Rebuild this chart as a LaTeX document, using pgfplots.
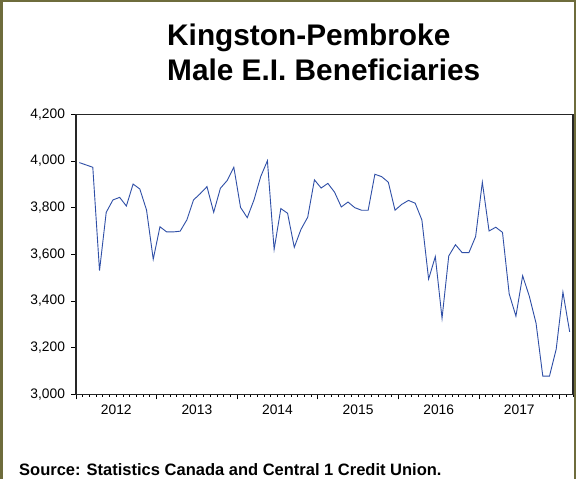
\documentclass[border=0pt]{standalone}
\usepackage{pgfplots}
\pgfplotsset{compat=1.18}
\usepackage{fontspec}
\setmainfont{Liberation Sans}
\definecolor{frameol}{RGB}{110,108,60}
\definecolor{lineblue}{RGB}{47,79,167}
\begin{document}
\begin{tikzpicture}[x=1bp,y=1bp]
\useasboundingbox (0,-479) rectangle (576,0);
\fill[white] (0,-479) rectangle (576,0);
\draw[frameol, line width=2.5bp] (1.25,-490) -- (1.25,-1.25) -- (574.75,-1.25) -- (574.75,-490);
\node[anchor=base west, inner sep=0pt, font=\fontsize{29.8bp}{35bp}\selectfont\bfseries] at (167,-45.5) {Kingston-Pembroke};
\node[anchor=base west, inner sep=0pt, font=\fontsize{29.8bp}{35bp}\selectfont\bfseries] at (167,-80.5) {Male E.I. Beneficiaries};
\node[anchor=base west, inner sep=0pt, font=\fontsize{16.5bp}{19bp}\selectfont\bfseries] at (19,-475.5) {Source: Statistics Canada and Central 1 Credit Union.};
\begin{axis}[
  at={(76bp,-394.3bp)}, anchor=south west,
  width=497bp, height=280bp, scale only axis,
  xmin=0, xmax=74, ymin=3000, ymax=4200,
  xtick={0,12,...,72},
  xticklabels={2012,2013,2014,2015,2016,2017},
  x tick label as interval,
  minor xtick={0,...,74},
  ytick={3000,3200,...,4200},
  tick pos=left,
  tick align=outside,
  major tick length=5bp,
  minor tick length=2.5bp,
  tick style={black, line width=0.8bp},
  axis line style={black!85, line width=1.1bp},
  /pgf/number format/assume math mode=true,
  /pgf/number format/1000 sep={,},
  ticklabel style={font=\fontsize{13.8bp}{16bp}\selectfont},
  yticklabel style={xshift=-2.5bp},
  xticklabel style={yshift=-2bp},
  clip=false,
]
\addplot[lineblue, line width=0.9bp, mark=none] coordinates {
(0.5,3993) (1.5,3983) (2.5,3973) (3.5,3530) (4.5,3780) (5.5,3833) (6.5,3844) (7.5,3807)
(8.5,3901) (9.5,3880) (10.5,3790) (11.5,3579) (12.5,3718) (13.5,3696) (14.5,3696) (15.5,3699)
(16.5,3747) (17.5,3833) (18.5,3860) (19.5,3890) (20.5,3780) (21.5,3883) (22.5,3916) (23.5,3973)
(24.5,3801) (25.5,3757) (26.5,3833) (27.5,3933) (28.5,4001) (29.5,3621) (30.5,3796) (31.5,3776)
(32.5,3630) (33.5,3707) (34.5,3759) (35.5,3919) (36.5,3884) (37.5,3904) (38.5,3866) (39.5,3803)
(40.5,3824) (41.5,3800) (42.5,3789) (43.5,3789) (44.5,3943) (45.5,3933) (46.5,3909) (47.5,3789)
(48.5,3814) (49.5,3831) (50.5,3819) (51.5,3747) (52.5,3494) (53.5,3590) (54.5,3326) (55.5,3593)
(56.5,3641) (57.5,3607) (58.5,3607) (59.5,3676) (60.5,3909) (61.5,3700) (62.5,3716) (63.5,3694)
(64.5,3430) (65.5,3335) (66.5,3508) (67.5,3420) (68.5,3304) (69.5,3078) (70.5,3078) (71.5,3194)
(72.5,3438) (73.5,3268)
};
\end{axis}
\end{tikzpicture}
\end{document}
